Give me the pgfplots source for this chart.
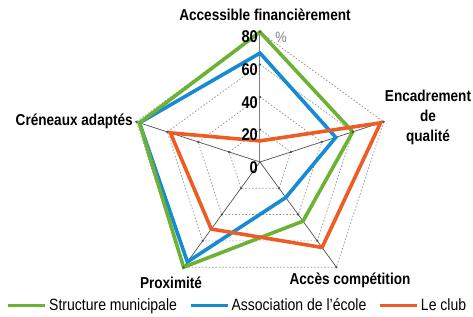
\documentclass[border=0pt]{standalone}
\usepackage{fontspec}
\setmainfont{Liberation Sans}[FakeStretch=0.86]
\usepackage{pgfplots}
\pgfplotsset{compat=1.18}
\usepgfplotslibrary{polar}
\definecolor{cgreen}{RGB}{108,178,52}
\definecolor{cblue}{RGB}{22,138,210}
\definecolor{corange}{RGB}{238,92,38}
\definecolor{cgrid}{RGB}{150,150,150}
\definecolor{cspoke}{RGB}{80,80,80}
\begin{document}
\begin{tikzpicture}
\begin{polaraxis}[
  hide axis, scale only axis, width=260pt, height=260pt,
  ymin=0, ymax=80, xmin=0, xmax=360,
  clip=false,
  legend columns=3,
  legend style={at={(axis description cs:0.413,-0.052)}, anchor=center, draw=none, fill=none,
    font=\fontsize{16.3}{18}\selectfont, inner sep=0pt,
    /tikz/every even column/.append style={column sep=10pt}},
  legend image code/.code={\draw[#1, line width=3.6pt] (0pt,0pt) -- (37pt,0pt);},
]
\addlegendimage{cgreen}
\addlegendentry{Structure municipale}
\addlegendimage{cblue}
\addlegendentry{Association de l'école}
\addlegendimage{corange}
\addlegendentry{Le club}
% grid rings
\addplot[forget plot, cgrid, dash pattern=on 1.6pt off 1.8pt, line width=0.7pt] coordinates {(90,20)(18,20)(306,20)(234,20)(162,20)} -- cycle;
\addplot[forget plot, cgrid, dash pattern=on 1.6pt off 1.8pt, line width=0.7pt] coordinates {(90,40)(18,40)(306,40)(234,40)(162,40)} -- cycle;
\addplot[forget plot, cgrid, dash pattern=on 1.6pt off 1.8pt, line width=0.7pt] coordinates {(90,60)(18,60)(306,60)(234,60)(162,60)} -- cycle;
\addplot[forget plot, cgrid, dash pattern=on 1.6pt off 1.8pt, line width=0.7pt] coordinates {(90,80)(18,80)(306,80)(234,80)(162,80)} -- cycle;
% spokes
\addplot[forget plot, gray, line width=1pt] coordinates {(90,0)(90,80)};
\addplot[forget plot, cspoke, line width=0.7pt] coordinates {(18,0)(18,80)};
\addplot[forget plot, cspoke, line width=0.7pt] coordinates {(306,0)(306,80)};
\addplot[forget plot, cspoke, line width=0.7pt] coordinates {(234,0)(234,80)};
\addplot[forget plot, cspoke, line width=0.7pt] coordinates {(162,0)(162,80)};
\addplot[forget plot, only marks, mark=*, mark size=0.9pt, cspoke] coordinates {
(90,20)(90,40)(90,60)(90,80)
(18,20)(18,40)(18,60)(18,80)
(306,20)(306,40)(306,60)(306,80)
(234,20)(234,40)(234,60)(234,80)
(162,20)(162,40)(162,60)(162,80)};
% data: Association de l'école
\addplot[forget plot, cblue, line width=3.6pt, line join=miter] coordinates {(90,67)(18,49)(306,27)(234,76)(162,78)} -- cycle;
% Structure municipale
\addplot[forget plot, cgreen, line width=3.6pt, line join=miter] coordinates {(90,80)(18,60)(306,45)(234,80)(162,78)} -- cycle;
% Le club
\addplot[forget plot, corange, line width=3.6pt, line join=miter] coordinates {(90,13)(18,78)(306,65)(234,51)(162,58)} -- cycle;
\coordinate (C) at (axis cs:0,0);
\end{polaraxis}
\begin{scope}[shift={(C)}, font=\fontsize{15.8}{18}\selectfont\bfseries]
\node at (5pt,147pt) {Accessible financièrement};
\node[align=center, font=\fontsize{15.8}{20}\selectfont\bfseries] at (168pt,45pt) {Encadrement\\de\\qualité};
\node[anchor=east, inner sep=0pt] at (-127pt,41pt) {Créneaux adaptés};
\node at (-89pt,-121pt) {Proximité};
\node at (90pt,-118pt) {Accès compétition};
\begin{scope}[font=\fontsize{17}{18}\selectfont\bfseries]
\node[anchor=east, inner sep=0pt] at (-2pt,125.5pt) {80};
\node[anchor=east, inner sep=0pt] at (-2pt,92pt) {60};
\node[anchor=east, inner sep=0pt] at (-2pt,59pt) {40};
\node[anchor=east, inner sep=0pt] at (-2pt,27pt) {20};
\node[anchor=east, inner sep=0pt] at (-2pt,-6pt) {0};
\end{scope}
\node[text=gray, font=\fontsize{15}{16}\selectfont, inner sep=0pt] at (21pt,125pt) {\%};
\pgfresetboundingbox
\path[use as bounding box] (-260pt,-154pt) rectangle (213pt,162pt);
\end{scope}
\end{tikzpicture}
\end{document}
